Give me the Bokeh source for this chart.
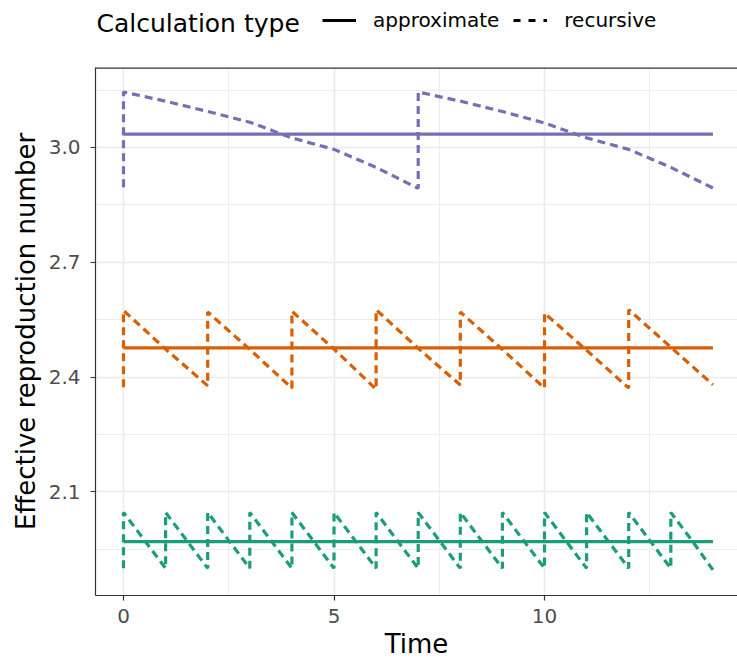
from bokeh.plotting import figure
from bokeh.layouts import column
from bokeh.models import (ColumnDataSource, Legend, LegendItem, FixedTicker,
                          NumeralTickFormatter, Span, Range1d)
from bokeh.core.properties import value
from bokeh.embed import file_html
from bokeh.resources import INLINE

# ---------------- data ----------------
x_ticks = [0, 5, 10]
x_minor = [2.5, 7.5, 12.5]
y_ticks = [2.1, 2.4, 2.7, 3.0]
y_minor = [1.95, 2.25, 2.55, 2.85, 3.15]

approx_t = [0, 14]
green_approx = [1.970, 1.970]
orange_approx = [2.476, 2.476]
purple_approx = [3.035, 3.035]

green_t = [0, 0, 0.5, 1, 1, 1.5, 2, 2, 2.5, 3, 3, 3.5, 4, 4, 4.5, 5, 5, 5.5,
           6, 6, 6.5, 7, 7, 7.5, 8, 8, 8.5, 9, 9, 9.5, 10, 10, 10.5, 11, 11,
           11.5, 12, 12, 12.5, 13, 13, 13.5, 14]
green_rec = [1.900, 2.046, 1.973, 1.900, 2.046, 1.973, 1.900, 2.046, 1.973,
             1.900, 2.046, 1.973, 1.900, 2.046, 1.973, 1.900, 2.046, 1.973,
             1.900, 2.046, 1.973, 1.900, 2.046, 1.973, 1.900, 2.046, 1.973,
             1.900, 2.046, 1.973, 1.900, 2.046, 1.973, 1.900, 2.046, 1.973,
             1.900, 2.046, 1.973, 1.900, 2.046, 1.973, 1.896]

orange_t = [0, 0, 1, 2, 2, 3, 4, 4, 5, 6, 6, 7, 8, 8, 9, 10, 10, 11, 12, 12,
            13, 14]
orange_rec = [2.373, 2.574, 2.473, 2.377, 2.570, 2.472, 2.371, 2.572, 2.473,
              2.368, 2.576, 2.475, 2.379, 2.570, 2.472, 2.371, 2.567, 2.470,
              2.371, 2.576, 2.478, 2.380]

purple_t = [0, 0, 1, 2, 3, 4, 5, 6, 7, 7, 8, 9, 10, 11, 12, 13, 14]
purple_rec = [2.896, 3.145, 3.121, 3.094, 3.066, 3.025, 2.995, 2.948, 2.893,
              3.145, 3.121, 3.094, 3.064, 3.025, 2.995, 2.948, 2.894]

legend_title = "Calculation type"
legend_labels = ["approximate", "recursive"]

GREEN, ORANGE, PURPLE = "#1B9E77", "#D95F02", "#7570B3"
FONT = "DejaVu Sans"
DASH = "8 5"
LW = 3.2
W = 737
LEG_H = 58
MAIN_H = 664 - LEG_H
FRAME_L = 95

# ---------------- legend strip ----------------
leg = figure(width=W, height=LEG_H, output_backend="svg", toolbar_location=None,
             x_range=Range1d(FRAME_L, W), y_range=Range1d(0, LEG_H),
             min_border_left=FRAME_L, min_border_right=0, min_border_top=0,
             min_border_bottom=0, x_axis_type=None, y_axis_type=None)
leg.outline_line_color = None
leg.xgrid.visible = False
leg.ygrid.visible = False
leg.text(x=[96], y=[LEG_H - 23], text=[legend_title], text_font=value(FONT),
         text_font_size="25px", text_color="black", text_baseline="middle",
         text_align="left")
key_src = ColumnDataSource(data=dict(x=[-5000, -4999], y=[-5000, -5000]))
k1 = leg.line(x="x", y="y", source=key_src, line_color="black", line_width=LW)
k2 = leg.line(x="x", y="y", source=key_src, line_color="black", line_width=LW,
              line_dash="7 8")
legend = Legend(items=[LegendItem(label=legend_labels[0], renderers=[k1]),
                       LegendItem(label=legend_labels[1], renderers=[k2])],
                orientation="horizontal",
                label_text_font=FONT, label_text_font_size="20px",
                label_text_color="black", label_height=20,
                glyph_width=34, glyph_height=20, label_standoff=17, spacing=14,
                border_line_color=None, background_fill_alpha=0,
                padding=0, margin=0, location=(322 - FRAME_L, LEG_H - 22 - 10))
leg.add_layout(legend)

# ---------------- main panel ----------------
p = figure(width=W, height=MAIN_H, output_backend="svg", toolbar_location=None,
           x_range=Range1d(-0.665, 14.584), y_range=Range1d(1.829, 3.209),
           min_border_left=FRAME_L, min_border_right=0, min_border_top=67 - LEG_H,
           min_border_bottom=69)
p.background_fill_color = "white"
p.outline_line_color = None

for t, v, c in [(green_t, green_rec, GREEN), (orange_t, orange_rec, ORANGE),
                (purple_t, purple_rec, PURPLE)]:
    p.line(x=t, y=v, line_color=c, line_width=LW, line_dash=DASH)
for v, c in [(green_approx, GREEN), (orange_approx, ORANGE), (purple_approx, PURPLE)]:
    p.line(x=approx_t, y=v, line_color=c, line_width=LW)

p.xaxis.ticker = FixedTicker(ticks=x_ticks, minor_ticks=x_minor)
p.yaxis.ticker = FixedTicker(ticks=y_ticks, minor_ticks=y_minor)
p.yaxis.formatter = NumeralTickFormatter(format="0.0")
for ax in (p.xaxis, p.yaxis):
    ax.axis_line_color = "#333333"
    ax.axis_line_width = 1.2
    ax.major_tick_line_color = "#333333"
    ax.major_tick_line_width = 1.2
    ax.major_tick_out = 5
    ax.major_tick_in = 0
    ax.minor_tick_line_color = None
    ax.major_label_text_font = FONT
    ax.major_label_text_font_size = "20px"
    ax.major_label_text_color = "#4D4D4D"
    ax.axis_label_text_font = FONT
    ax.axis_label_text_font_size = "26px"
    ax.axis_label_text_font_style = "normal"
    ax.axis_label_text_color = "black"
p.xaxis.axis_label = "Time"
p.yaxis.axis_label = "Effective reproduction number"
p.xaxis.major_label_standoff = 8
p.xaxis.axis_label_standoff = 3
p.yaxis.major_label_standoff = 10
p.yaxis.axis_label_standoff = 5

for g in (p.xgrid, p.ygrid):
    g.grid_line_color = "#EBEBEB"
    g.grid_line_width = 1.6
    g.minor_grid_line_color = "#EBEBEB"
    g.minor_grid_line_width = 0.9

p.add_layout(Span(location=3.209, dimension="width", line_color="#333333",
                  line_width=2.4))

layout = column(leg, p, spacing=0)
open("out.html", "w").write(file_html(layout, INLINE))
